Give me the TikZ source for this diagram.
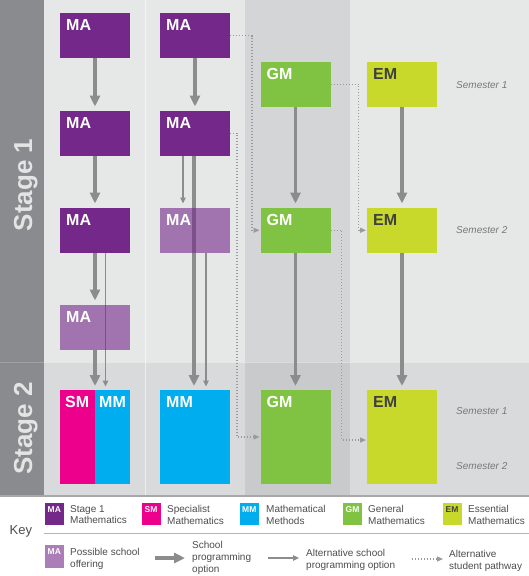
\documentclass[tikz,border=0pt]{standalone}
\usepackage{fontspec}
\setmainfont{Liberation Sans}
\setsansfont{Liberation Sans}
\usetikzlibrary{arrows.meta}
\pgfdeclarelayer{bgl}
\pgfdeclarelayer{arrl}
\pgfsetlayers{bgl,arrl,main}
\definecolor{ma}{HTML}{74288A}
\definecolor{smc}{HTML}{EC008C}
\definecolor{mmc}{HTML}{00AEEF}
\definecolor{gmc}{HTML}{80C241}
\definecolor{emc}{HTML}{C8D92B}
\definecolor{arrgray}{HTML}{8C8C8C}
\definecolor{dotgray}{HTML}{9A9A9A}
\definecolor{band}{HTML}{8A8B8E}
\definecolor{bandline}{HTML}{A0A1A3}
\definecolor{borderline}{HTML}{A8A8A8}
\definecolor{keyline}{HTML}{B5B5B5}
\definecolor{bgone}{HTML}{E6E7E7}
\definecolor{bgthree}{HTML}{D4D5D7}
\definecolor{bgstwo}{HTML}{D9DADB}
\definecolor{bgsthree}{HTML}{C9CACC}
\definecolor{stagetxt}{HTML}{E4E4E5}
\definecolor{semtxt}{HTML}{787878}
\definecolor{keytxt}{HTML}{4D4D4D}
\definecolor{emtxt}{HTML}{404040}
\begin{document}
\begin{tikzpicture}[x=1pt,y=-1pt,
  course/.style={rectangle, inner sep=0pt, outer sep=0pt, anchor=north west, minimum width=70pt, minimum height=44.5pt},
  tall/.style={minimum height=94pt},
  possible/.style={fill=ma, fill opacity=0.6},
  lab/.style={anchor=north west, inner sep=0pt, text=white, font=\fontsize{16}{16}\selectfont\bfseries},
  labdark/.style={lab, text=emtxt},
  stagelbl/.style={rotate=90, anchor=base, inner sep=0pt, text=stagetxt, font=\fontsize{26}{26}\selectfont\bfseries},
  sem/.style={anchor=west, inner sep=0pt, text=semtxt, font=\fontsize{10}{10}\selectfont\itshape},
  main arrow/.style={draw=arrgray, line width=3.5pt, -{Triangle[width=10pt,length=11pt]}, shorten >=4.5pt},
  alt arrow/.style={draw=arrgray, line width=1.2pt, -{Triangle[width=5.5pt,length=6pt]}, shorten >=4.5pt},
  path arrow/.style={draw=dotgray, line width=1.2pt, dash pattern=on 1.2pt off 1.8pt, -{Triangle[width=5pt,length=6pt]}, shorten >=1pt},
  swatch/.style={rectangle, inner sep=0pt, outer sep=0pt, anchor=north west, minimum width=19pt, minimum height=22pt},
  swlab/.style={anchor=north west, inner sep=0pt, text=white, font=\fontsize{8.5}{8.5}\selectfont\bfseries},
  keytext/.style={anchor=north west, inner sep=0pt, align=left, text=keytxt, font=\fontsize{10}{11.6}\selectfont}
]
\useasboundingbox (0,0) rectangle (529,576);

% ---------- backgrounds ----------
\begin{pgfonlayer}{bgl}
\fill[white] (0,0) rectangle (529,576);
\fill[band] (0,0) rectangle (44,495);
\fill[bgone] (44,0) rectangle (245,362);
\fill[bgthree] (245,0) rectangle (350,362);
\fill[bgone] (350,0) rectangle (529,362);
\fill[bgstwo] (44,362) rectangle (529,495);
\fill[bgsthree] (245,362) rectangle (350,495);
\draw[white, opacity=0.55, line width=1pt] (145.5,0) -- (145.5,495);
\draw[bandline, line width=1pt] (0,362) -- (44,362);
\draw[white, opacity=0.35, line width=1pt] (44,362) -- (529,362);
\draw[borderline, line width=1.5pt] (0,495.75) -- (529,495.75);
\draw[keyline, line width=1.2pt] (44,533.3) -- (529,533.3);
\end{pgfonlayer}

% ---------- stage labels ----------
\node[stagelbl] (st1) at (32,185) {Stage 1};
\node[stagelbl] (st2) at (32,428.5) {Stage 2};

% ---------- semester labels ----------
\node[sem] (s1a) at (456,85) {Semester 1};
\node[sem] (s2a) at (456,230) {Semester 2};
\node[sem] (s1b) at (456,411) {Semester 1};
\node[sem] (s2b) at (456,466) {Semester 2};

% ---------- course boxes ----------
\node[course, fill=ma, minimum height=45pt] (a1) at (60,13) {};
\node[course, fill=ma] (a2) at (60,111) {};
\node[course, fill=ma] (a3) at (60,208) {};
\node[course, possible] (a4) at (60,305) {};
\node[course, tall, fill=smc, minimum width=35pt] (sm) at (60,390) {};
\node[course, tall, fill=mmc, minimum width=35pt] (mma) at (95,390) {};

\node[course, fill=ma, minimum height=45pt] (b1) at (160,13) {};
\node[course, fill=ma] (b2) at (160,111) {};
\node[course, possible] (b3) at (160,208) {};
\node[course, tall, fill=mmc] (mmb) at (160,390) {};

\node[course, fill=gmc] (g1) at (260.5,62) {};
\node[course, fill=gmc] (g2) at (260.5,208) {};
\node[course, tall, fill=gmc] (g3) at (260.5,390) {};

\node[course, fill=emc] (e1) at (367,62) {};
\node[course, fill=emc] (e2) at (367,208) {};
\node[course, tall, fill=emc] (e3) at (367,390) {};

% ---------- box labels ----------
\node[lab] (a1t) at ([shift={(6,6.5)}]a1.north west) {MA};
\node[lab] (a2t) at ([shift={(6,6.5)}]a2.north west) {MA};
\node[lab] (a3t) at ([shift={(6,6.5)}]a3.north west) {MA};
\node[lab] (a4t) at ([shift={(6,6.5)}]a4.north west) {MA};
\node[lab] (smt) at ([shift={(5,6.5)}]sm.north west) {SM};
\node[lab] (mmat) at ([shift={(4,6.5)}]mma.north west) {MM};
\node[lab] (b1t) at ([shift={(6,6.5)}]b1.north west) {MA};
\node[lab] (b2t) at ([shift={(6,6.5)}]b2.north west) {MA};
\node[lab] (b3t) at ([shift={(6,6.5)}]b3.north west) {MA};
\node[lab] (mmbt) at ([shift={(6,6.5)}]mmb.north west) {MM};
\node[lab] (g1t) at ([shift={(6,6.5)}]g1.north west) {GM};
\node[lab] (g2t) at ([shift={(6,6.5)}]g2.north west) {GM};
\node[lab] (g3t) at ([shift={(6,6.5)}]g3.north west) {GM};
\node[labdark] (e1t) at ([shift={(6,6.5)}]e1.north west) {EM};
\node[labdark] (e2t) at ([shift={(6,6.5)}]e2.north west) {EM};
\node[labdark] (e3t) at ([shift={(6,6.5)}]e3.north west) {EM};

% ---------- connectors ----------
\begin{pgfonlayer}{arrl}
% column 1
\draw[main arrow] (a1.south) -- (a2.north);
\draw[main arrow] (a2.south) -- (a3.north);
\draw[main arrow] (a3.south) -- (a4.north);
\draw[main arrow, shorten >=4pt] (a4.south) -- (sm.north east);
\draw[alt arrow, shorten >=3.5pt] ([xshift=10.5pt]a3.south) -- ([xshift=10.5pt]a3.south |- mma.north);
% column 2
\draw[main arrow] (b1.south) -- (b2.north);
\draw[main arrow, shorten >=4pt] ([xshift=-1pt]b2.south) -- ([xshift=-1pt]b2.south |- mmb.north);
\draw[alt arrow] ([xshift=-12pt]b2.south) -- ([xshift=-12pt]b2.south |- b3.north);
\draw[alt arrow, shorten >=3.5pt] ([xshift=11pt]b3.south) -- ([xshift=11pt]b3.south |- mmb.north);
% column 3
\draw[main arrow] (g1.south) -- (g2.north);
\draw[main arrow, shorten >=4pt] (g2.south) -- (g3.north);
% column 4
\draw[main arrow] (e1.south) -- (e2.north);
\draw[main arrow, shorten >=4pt] (e2.south) -- (e3.north);
% alternative student pathways
\draw[path arrow] (b1.east) -- ++(22,0) |- (g2.west);
\draw[path arrow] (b2.east) -- ++(7,0) |- (g3.west);
\draw[path arrow] (g1.east) -- ++(28,0) |- (e2.west);
\draw[path arrow] (g2.east) -- ++(11,0) |- ([yshift=-3pt]e3.west);
\end{pgfonlayer}

% ---------- key ----------
\node[anchor=west, inner sep=0pt, text=keytxt, font=\fontsize{13}{13}\selectfont] (keyl) at (9.5,531.5) {Key};

\node[swatch, fill=ma] (kma) at (45,503) {};
\node[swlab] (kmat) at ([shift={(2.5,3.5)}]kma.north west) {MA};
\node[keytext] (kmatx) at (70,505) {Stage 1\\Mathematics};

\node[swatch, fill=smc] (ksm) at (142,503) {};
\node[swlab] (ksmt) at ([shift={(2.5,3.5)}]ksm.north west) {SM};
\node[keytext] (ksmtx) at (167,505) {Specialist\\Mathematics};

\node[swatch, fill=mmc] (kmm) at (240,503) {};
\node[swlab] (kmmt) at ([shift={(2,3.5)}]kmm.north west) {MM};
\node[keytext] (kmmtx) at (266,505) {Mathematical\\Methods};

\node[swatch, fill=gmc] (kgm) at (343,503) {};
\node[swlab] (kgmt) at ([shift={(2.5,3.5)}]kgm.north west) {GM};
\node[keytext] (kgmtx) at (368,505) {General\\Mathematics};

\node[swatch, fill=emc] (kem) at (443,503) {};
\node[swlab, text=emtxt] (kemt) at ([shift={(2.5,3.5)}]kem.north west) {EM};
\node[keytext] (kemtx) at (468,505) {Essential\\Mathematics};

\node[swatch, possible, minimum height=23pt] (kpo) at (45,545) {};
\node[swlab] (kpot) at ([shift={(2.5,3.5)}]kpo.north west) {MA};
\node[keytext] (kpotx) at (70,548) {Possible school\\offering};

\coordinate (k1s) at (155,558);
\coordinate (k1e) at (185,558);
\draw[main arrow, shorten >=0pt] (k1s) -- (k1e);
\node[keytext] (k1tx) at (192,541.5) {School\\programming\\option};

\coordinate (k2s) at (268,558);
\coordinate (k2e) at (299,558);
\draw[alt arrow, shorten >=0pt] (k2s) -- (k2e);
\node[keytext] (k2tx) at (306,549) {Alternative school\\programming option};

\coordinate (k3s) at (412,559);
\coordinate (k3e) at (443,559);
\draw[path arrow, shorten >=0pt] (k3s) -- (k3e);
\node[keytext] (k3tx) at (449,550) {Alternative\\student pathway};
\end{tikzpicture}
\end{document}
